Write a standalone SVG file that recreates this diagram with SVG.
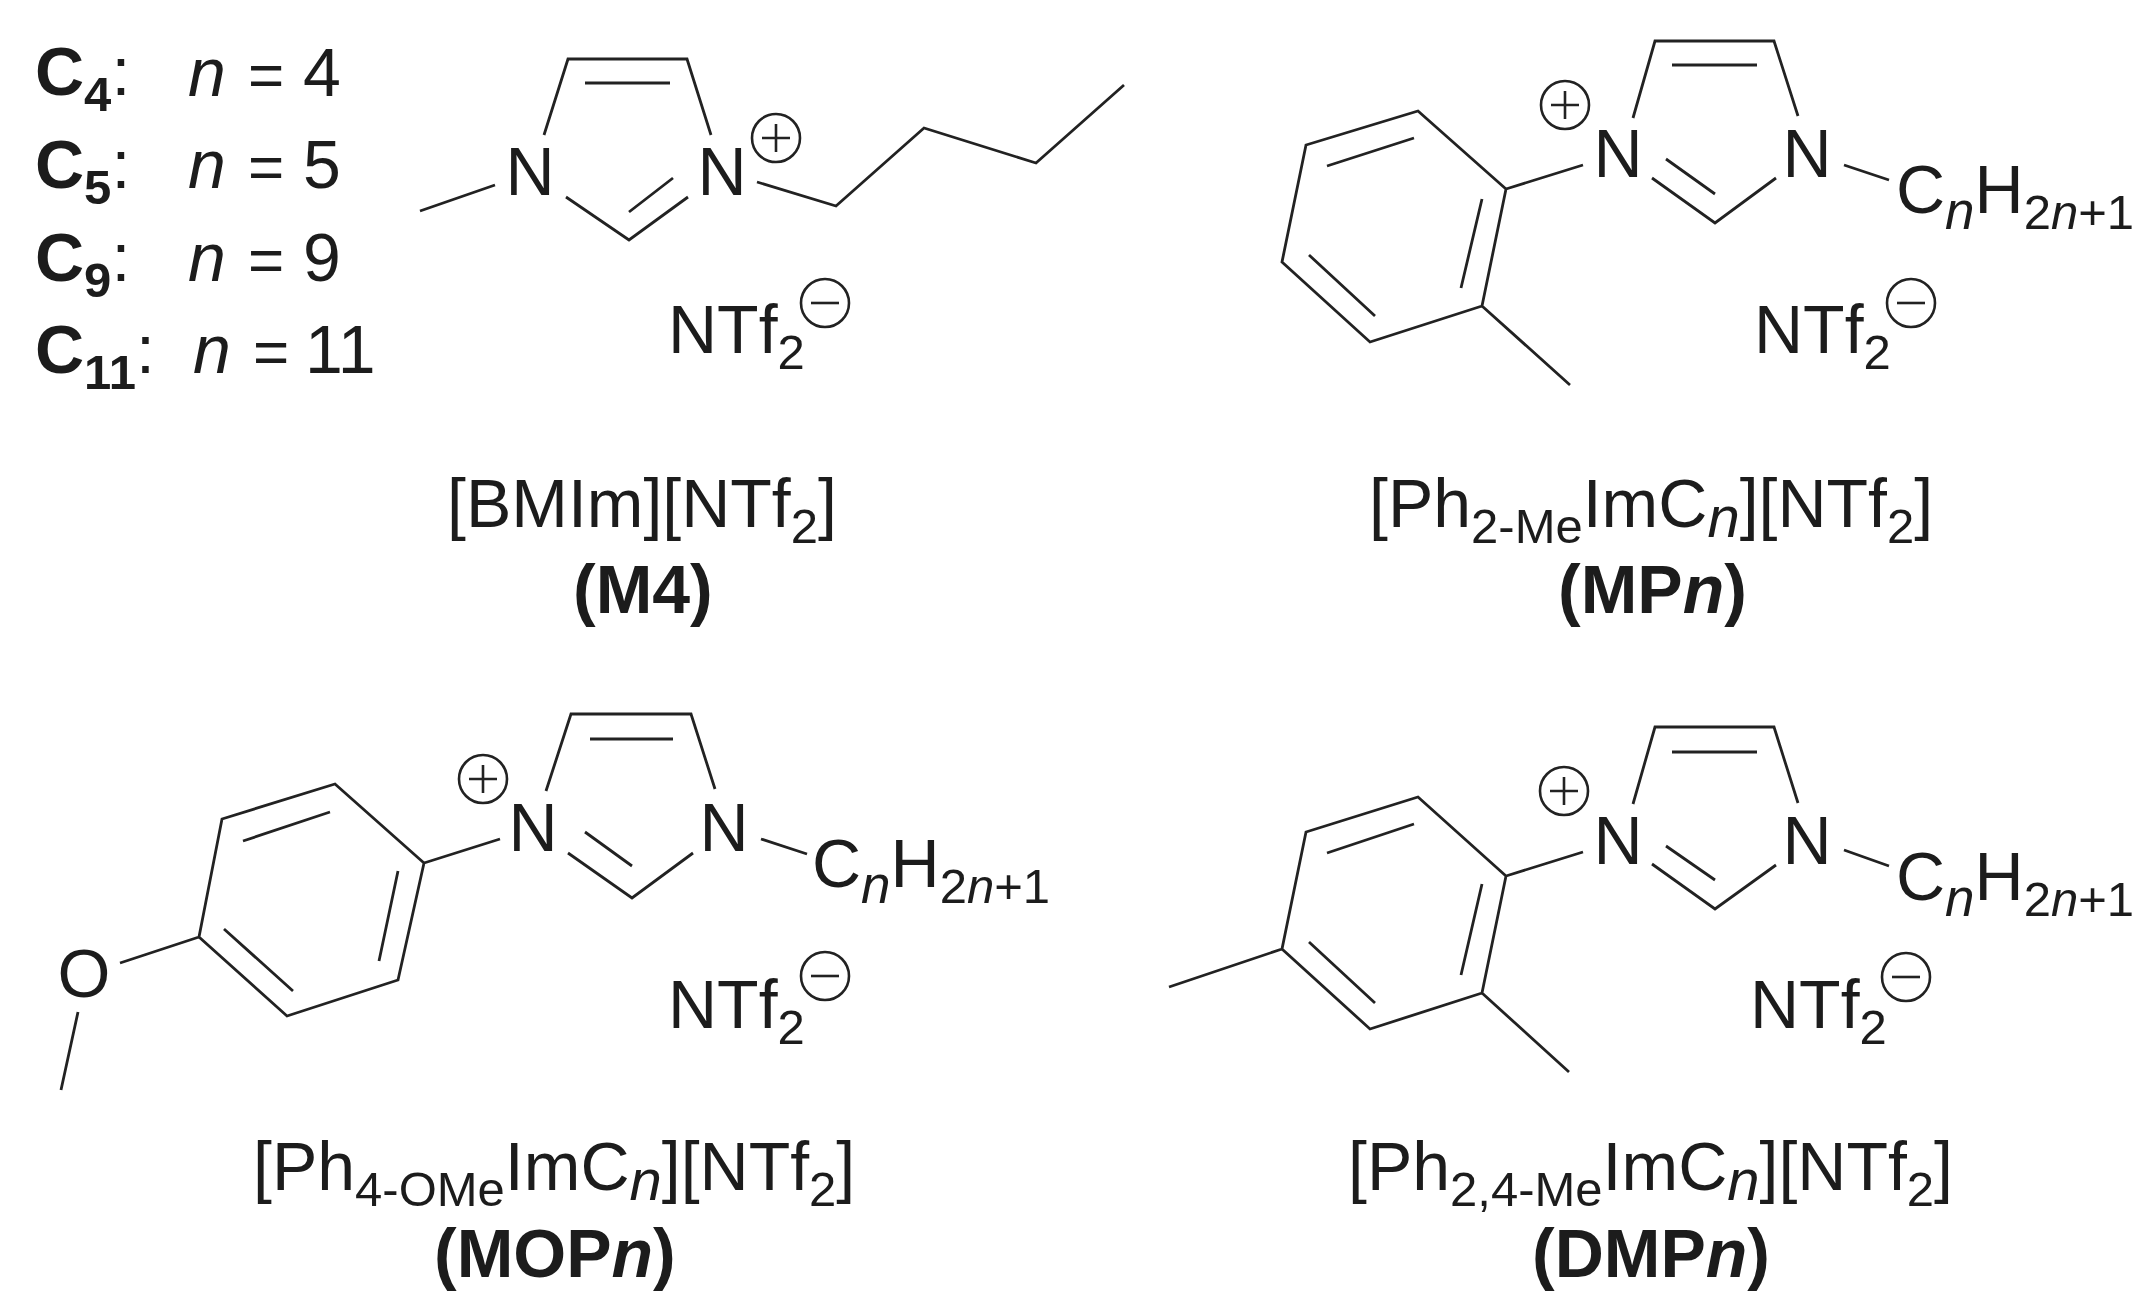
<svg xmlns="http://www.w3.org/2000/svg" width="2146" height="1314" viewBox="0 0 2146 1314">
<style>
text{font-family:"Liberation Sans",Arial,sans-serif;font-size:68px;fill:#1c1c1c}
.b{font-weight:700}
.i{font-style:italic}
.s{font-size:49px}
.ln{font-size:58px;font-style:italic}
.fn{font-size:53px;font-style:italic}
.e{font-size:62px}
.bonds path{fill:none;stroke:#222;stroke-width:2.8;stroke-linejoin:miter}
.ch circle{fill:none;stroke:#222;stroke-width:2.6}
.ch path{fill:none;stroke:#222;stroke-width:2.6}
</style>
<rect width="2146" height="1314" fill="#fff"/>
<g id="legend">
<text x="35" y="95"><tspan class="b">C</tspan><tspan class="b s" dy="16">4</tspan><tspan dy="-16">:</tspan></text>
<text x="188" y="96" class="i">n</text><text x="248" y="96" class="e">=</text><text x="303" y="96">4</text>
<text x="35" y="188"><tspan class="b">C</tspan><tspan class="b s" dy="16">5</tspan><tspan dy="-16">:</tspan></text>
<text x="188" y="188" class="i">n</text><text x="248" y="188" class="e">=</text><text x="303" y="188">5</text>
<text x="35" y="281"><tspan class="b">C</tspan><tspan class="b s" dy="16">9</tspan><tspan dy="-16">:</tspan></text>
<text x="188" y="281" class="i">n</text><text x="248" y="281" class="e">=</text><text x="303" y="281">9</text>
<text x="35" y="373"><tspan class="b">C</tspan><tspan class="b s" dy="16">11</tspan><tspan dy="-16">:</tspan></text>
<text x="193" y="373" class="i">n</text><text x="253" y="373" class="e">=</text><text x="305" y="373">11</text>
</g>
<g id="M4">
<g class="bonds"><path d="M544 135L568 59H687L711 135M585 83H670M420 211L495 185M566 197L629 240L688 197M629 212L673 178M757 182L836 206L924 128L1036 163L1124 85"/></g>
<text x="530" y="195" text-anchor="middle">N</text><text x="722" y="195" text-anchor="middle">N</text>
<g class="ch"><circle cx="776" cy="138" r="24"/><path d="M762 138H790M776 124V152"/></g>
<text x="668" y="353">NTf<tspan class="s" dy="16">2</tspan></text>
<g class="ch"><circle cx="825" cy="303" r="24"/><path d="M811 303H839"/></g>
<text x="447" y="527">[BMIm][NTf<tspan class="s" dy="16">2</tspan><tspan dy="-16">]</tspan></text>
<text x="573" y="613" class="b">(M4)</text>
</g>
<g id="MPn">
<g class="bonds"><path d="M1633 118L1655 41H1774L1798 116M1672 65H1757M1652 178L1715 223L1776 178M1666 159L1715 194M1844 165L1889 180M1583 165L1506 189L1482 306L1370 342L1282 262L1306 145L1418 111L1506 189M1482 199L1461 288M1375 316L1309 255M1327 166L1414 138M1482 306L1570 385"/></g>
<text x="1618" y="177" text-anchor="middle">N</text><text x="1807" y="177" text-anchor="middle">N</text>
<text x="1896" y="213">C<tspan class="fn" dy="16">n</tspan><tspan dy="-16">H</tspan><tspan class="s" dy="16">2</tspan><tspan class="s i">n</tspan><tspan class="s">+1</tspan></text>
<g class="ch"><circle cx="1565" cy="105" r="24"/><path d="M1551 105H1579M1565 91V119"/></g>
<text x="1754" y="353">NTf<tspan class="s" dy="16">2</tspan></text>
<g class="ch"><circle cx="1911" cy="303" r="24"/><path d="M1897 303H1925"/></g>
<text x="1369" y="527">[Ph<tspan class="s" dy="16">2-Me</tspan><tspan dy="-16">ImC</tspan><tspan class="ln" dy="10">n</tspan><tspan dy="-10">][NTf</tspan><tspan class="s" dy="16">2</tspan><tspan dy="-16">]</tspan></text>
<text x="1558" y="613" class="b">(MP<tspan class="i">n</tspan>)</text>
</g>
<g id="MOPn">
<g class="bonds"><path d="M546 791L571 714H691L715 789M590 739H673M568 853L632 898L693 853M585 832L632 866M761 839L807 854M500 839L424 863L398 980L287 1016L199 937L222 819L335 784L424 863M398 871L379 961M293 991L224 929M243 841L330 812M199 937L120 963M78 1012L61 1090"/></g>
<text x="533" y="851" text-anchor="middle">N</text><text x="724" y="851" text-anchor="middle">N</text>
<text x="84" y="997" text-anchor="middle">O</text>
<text x="812" y="887">C<tspan class="fn" dy="16">n</tspan><tspan dy="-16">H</tspan><tspan class="s" dy="16">2</tspan><tspan class="s i">n</tspan><tspan class="s">+1</tspan></text>
<g class="ch"><circle cx="483" cy="779" r="24"/><path d="M469 779H497M483 765V793"/></g>
<text x="668" y="1028">NTf<tspan class="s" dy="16">2</tspan></text>
<g class="ch"><circle cx="825" cy="976" r="24"/><path d="M811 976H839"/></g>
<text x="253" y="1190">[Ph<tspan class="s" dy="16">4-OMe</tspan><tspan dy="-16">ImC</tspan><tspan class="ln" dy="10">n</tspan><tspan dy="-10">][NTf</tspan><tspan class="s" dy="16">2</tspan><tspan dy="-16">]</tspan></text>
<text x="434" y="1277" class="b">(MOP<tspan class="i">n</tspan>)</text>
</g>
<g id="DMPn">
<g class="bonds"><path d="M1633 804L1655 727H1774L1798 803M1672 752H1757M1652 864L1715 909L1776 865M1666 846L1715 880M1844 850L1889 866M1583 852L1506 876L1482 993L1370 1029L1282 949L1306 832L1418 797L1506 876M1482 884L1461 975M1375 1003L1309 942M1327 853L1414 824M1482 993L1569 1072M1282 949L1169 987"/></g>
<text x="1618" y="864" text-anchor="middle">N</text><text x="1807" y="864" text-anchor="middle">N</text>
<text x="1896" y="900">C<tspan class="fn" dy="16">n</tspan><tspan dy="-16">H</tspan><tspan class="s" dy="16">2</tspan><tspan class="s i">n</tspan><tspan class="s">+1</tspan></text>
<g class="ch"><circle cx="1564" cy="791" r="24"/><path d="M1550 791H1578M1564 777V805"/></g>
<text x="1750" y="1028">NTf<tspan class="s" dy="16">2</tspan></text>
<g class="ch"><circle cx="1906" cy="977" r="24"/><path d="M1892 977H1920"/></g>
<text x="1348" y="1190">[Ph<tspan class="s" dy="16">2,4-Me</tspan><tspan dy="-16">ImC</tspan><tspan class="ln" dy="10">n</tspan><tspan dy="-10">][NTf</tspan><tspan class="s" dy="16">2</tspan><tspan dy="-16">]</tspan></text>
<text x="1532" y="1277" class="b">(DMP<tspan class="i">n</tspan>)</text>
</g>
</svg>
